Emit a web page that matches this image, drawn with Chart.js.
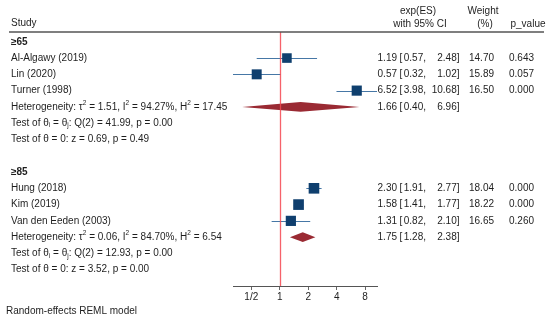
<!DOCTYPE html>
<html>
<head>
<meta charset="utf-8">
<script src="https://cdn.jsdelivr.net/npm/chart.js@4"></script>
<style>
  html, body { margin: 0; padding: 0; background: #fff; }
  #wrap { width: 550px; height: 323px; }
</style>
</head>
<body>
<div id="wrap"><canvas id="forest" width="550" height="323"></canvas></div>
<script>
// data
var studies = ['Al-Algawy (2019)', 'Lin (2020)', 'Turner (1998)', 'Hung (2018)', 'Kim (2019)', 'Van den Eeden (2003)'];
var studyRows = [2, 3, 4, 10, 11, 12];
var es = [1.19, 0.57, 6.52, 2.30, 1.58, 1.31];
var ciLow = [0.57, 0.32, 3.98, 1.91, 1.41, 0.82];
var ciHigh = [2.48, 1.02, 10.68, 2.77, 1.77, 2.10];
var weights = [14.70, 15.89, 16.50, 18.04, 18.22, 16.65];
var pValues = ['0.643', '0.057', '0.000', '0.000', '0.000', '0.260'];

var groups = ['≥65', '≥85'];
var groupRows = [1, 9];
var pooledRows = [5, 13];
var pooledEs = [1.66, 1.75];
var pooledLow = [0.40, 1.28];
var pooledHigh = [6.96, 2.38];
var tau2 = ['1.51', '0.06'];
var i2 = ['94.27', '84.70'];
var h2 = ['17.45', '6.54'];
var qStat = ['41.99', '12.93'];
var qDf = [2, 2];
var qP = ['0.00', '0.00'];
var zStat = ['0.69', '3.52'];
var zP = ['0.49', '0.00'];

var xTicks = [0.5, 1, 2, 4, 8];
var xTickLabels = ['1/2', '1', '2', '4', '8'];

var FONT = '"Liberation Sans", Arial, sans-serif';
var TXT = '#1e1e1e';

function drawRich(ctx, parts, x, y) {
    parts.forEach(function(p) {
        var dy = 0;
        if (p[1] == 'sup') { ctx.font = '6.5px ' + FONT; dy = -4; }
        else if (p[1] == 'sub') { ctx.font = '6.5px ' + FONT; dy = 2.5; }
        else ctx.font = '10px ' + FONT;
        ctx.fillText(p[0], x, y + dy);
        x += ctx.measureText(p[0]).width;
    });
}

function fmt(v) { return v.toFixed(2); }

// estimate + CI columns, same layout for studies and pooled rows
function drawCI(ctx, est, lo, hi, y) {
    ctx.font = '10px ' + FONT;
    ctx.textAlign = 'right';
    ctx.fillText(fmt(est), 397, y);
    ctx.textAlign = 'left';
    ctx.fillText('[', 399.5, y);
    ctx.textAlign = 'right';
    ctx.fillText(fmt(lo) + ',', 426, y);
    ctx.fillText(fmt(hi) + ']', 459.5, y);
}

var forestPlugin = {
    id: 'forest',
    beforeDatasetsDraw: function(chart) {
        var ctx = chart.ctx, xs = chart.scales.x, ys = chart.scales.y;
        ctx.save();
        ctx.strokeStyle = '#4677a6';
        ctx.lineWidth = 1;
        for (var i = 0; i < es.length; i++) {
            var y = Math.round(ys.getPixelForValue(studyRows[i])) + 0.5;
            ctx.beginPath();
            ctx.moveTo(xs.getPixelForValue(ciLow[i]), y);
            ctx.lineTo(xs.getPixelForValue(ciHigh[i]), y);
            ctx.stroke();
        }
        ctx.restore();
    },
    afterDatasetsDraw: function(chart) {
        var ctx = chart.ctx, xs = chart.scales.x, ys = chart.scales.y, area = chart.chartArea;
        ctx.save();
        // pooled diamonds
        ctx.fillStyle = '#9a2a33';
        for (var g = 0; g < pooledEs.length; g++) {
            var yc = ys.getPixelForValue(pooledRows[g]);
            ctx.beginPath();
            ctx.moveTo(xs.getPixelForValue(pooledLow[g]), yc);
            ctx.lineTo(xs.getPixelForValue(pooledEs[g]), yc - 4.8);
            ctx.lineTo(xs.getPixelForValue(pooledHigh[g]), yc);
            ctx.lineTo(xs.getPixelForValue(pooledEs[g]), yc + 4.8);
            ctx.closePath();
            ctx.fill();
        }
        // no-effect line
        var x1 = Math.round(xs.getPixelForValue(1)) + 0.5;
        ctx.strokeStyle = 'rgba(245,70,80,0.85)';
        ctx.lineWidth = 1.3;
        ctx.beginPath();
        ctx.moveTo(x1, area.top);
        ctx.lineTo(x1, area.bottom);
        ctx.stroke();
        ctx.restore();
    },
    afterDraw: function(chart) {
        var ctx = chart.ctx, ys = chart.scales.y;
        ctx.save();
        ctx.fillStyle = TXT;
        ctx.textBaseline = 'middle';

        // header
        ctx.font = '10px ' + FONT;
        ctx.textAlign = 'left';
        ctx.fillText('Study', 11, 23.5);
        ctx.textAlign = 'center';
        ctx.fillText('exp(ES)', 418, 11.5);
        ctx.fillText('with 95% CI', 420, 24);
        ctx.fillText('Weight', 483, 11.5);
        ctx.fillText('(%)', 485, 24);
        ctx.fillText('p_value', 528, 24);

        ctx.strokeStyle = '#555';
        ctx.lineWidth = 1.5;
        ctx.beginPath();
        ctx.moveTo(9, chart.chartArea.top);
        ctx.lineTo(544, chart.chartArea.top);
        ctx.stroke();

        // group labels
        ctx.textAlign = 'left';
        ctx.font = 'bold 10px ' + FONT;
        for (var g = 0; g < groups.length; g++) {
            ctx.fillText(groups[g], 11, ys.getPixelForValue(groupRows[g]));
        }

        // study rows
        for (var i = 0; i < studies.length; i++) {
            var y = ys.getPixelForValue(studyRows[i]);
            ctx.font = '10px ' + FONT;
            ctx.textAlign = 'left';
            ctx.fillText(studies[i], 11, y);
            drawCI(ctx, es[i], ciLow[i], ciHigh[i], y);
            ctx.textAlign = 'right';
            ctx.fillText(weights[i].toFixed(2), 494, y);
            ctx.fillText(pValues[i], 534, y);
        }

        // pooled rows and tests
        for (var g = 0; g < pooledEs.length; g++) {
            var r = pooledRows[g];
            var y = ys.getPixelForValue(r);
            ctx.textAlign = 'left';
            drawRich(ctx, [['Heterogeneity: τ', ''], ['2', 'sup'], [' = ' + tau2[g] + ', I', ''], ['2', 'sup'],
                [' = ' + i2[g] + '%, H', ''], ['2', 'sup'], [' = ' + h2[g], '']], 11, y);
            drawRich(ctx, [['Test of θ', ''], ['i', 'sub'], [' = θ', ''], ['j', 'sub'],
                [': Q(' + qDf[g] + ') = ' + qStat[g] + ', p = ' + qP[g], '']], 11, ys.getPixelForValue(r + 1));
            drawRich(ctx, [['Test of θ = 0: z = ' + zStat[g] + ', p = ' + zP[g], '']], 11, ys.getPixelForValue(r + 2));
            drawCI(ctx, pooledEs[g], pooledLow[g], pooledHigh[g], y);
        }

        ctx.textAlign = 'left';
        ctx.font = '10px ' + FONT;
        ctx.fillText('Random-effects REML model', 6, 311.5);
        ctx.restore();
    }
};

var points = es.map(function(v, i) { return { x: v, y: studyRows[i] }; });

new Chart(document.getElementById('forest').getContext('2d'), {
    type: 'scatter',
    data: {
        datasets: [{
            data: points,
            pointStyle: 'rect',
            backgroundColor: '#0f3f6e',
            borderWidth: 0,
            pointRadius: function(c) {
                var side = 2.5 * Math.sqrt(weights[c.dataIndex]);
                return side / Math.SQRT2;
            },
            pointHoverRadius: function(c) {
                return 2.5 * Math.sqrt(weights[c.dataIndex]) / Math.SQRT2;
            }
        }]
    },
    options: {
        responsive: false,
        animation: false,
        layout: { padding: { left: 233, right: 173, top: 32, bottom: 0 } },
        plugins: { legend: { display: false }, tooltip: { enabled: false } },
        scales: {
            x: {
                type: 'logarithmic',
                min: 0.32,
                max: 10.68,
                bounds: 'data',
                afterBuildTicks: function(scale) {
                    scale.ticks = xTicks.map(function(v) { return { value: v }; });
                },
                afterFit: function(scale) { scale.height = 37; },
                ticks: {
                    autoSkip: false,
                    maxRotation: 0,
                    padding: 1,
                    color: TXT,
                    font: { family: FONT, size: 10 },
                    callback: function(v) {
                        var k = xTicks.indexOf(v);
                        return k >= 0 ? xTickLabels[k] : '';
                    }
                },
                grid: { drawOnChartArea: false, drawTicks: true, tickLength: 4, color: '#666' },
                border: { display: true, color: '#555', width: 1 }
            },
            y: {
                type: 'linear',
                reverse: true,
                min: 0.4,
                max: 16,
                display: false
            }
        }
    },
    plugins: [forestPlugin]
});
</script>
</body>
</html>
